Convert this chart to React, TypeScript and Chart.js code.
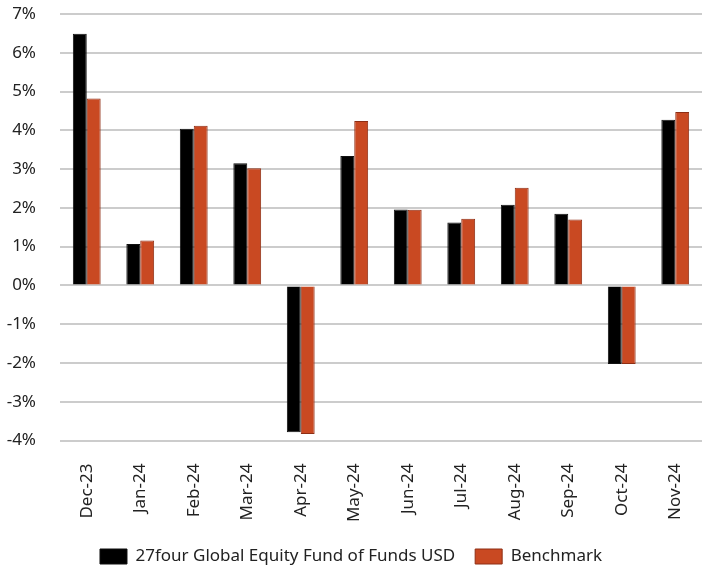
import React, { useEffect, useRef } from "react";
import { Chart, registerables } from "chart.js";

Chart.register(...registerables);

const categories = ["Dec-23", "Jan-24", "Feb-24", "Mar-24", "Apr-24", "May-24", "Jun-24", "Jul-24", "Aug-24", "Sep-24", "Oct-24", "Nov-24"];
const fundValues = [6.49, 1.07, 4.04, 3.15, -3.79, 3.34, 1.96, 1.62, 2.08, 1.85, -2.03, 4.27];
const benchmarkValues = [4.82, 1.16, 4.12, 3.02, -3.83, 4.24, 1.95, 1.72, 2.52, 1.70, -2.03, 4.47];
const fundLabel = "27four Global Equity Fund of Funds USD";
const benchmarkLabel = "Benchmark";

const FONT = "'Noto Sans', sans-serif";

export default function App() {
  const ref = useRef<HTMLCanvasElement | null>(null);
  useEffect(() => {
    document.body.style.margin = "0";
    const ctx = ref.current!;
    const chart = new Chart(ctx, {
      type: "bar",
      data: {
        labels: categories,
        datasets: [
          {
            label: fundLabel,
            data: fundValues,
            backgroundColor: "#000000",
            borderColor: "#111111",
            borderWidth: 1,
            categoryPercentage: 0.52,
            barPercentage: 1.0,
          },
          {
            label: benchmarkLabel,
            data: benchmarkValues,
            backgroundColor: "#C94922",
            borderColor: "#8E2E14",
            borderWidth: 1,
            categoryPercentage: 0.52,
            barPercentage: 1.0,
          },
        ],
      },
      options: {
        animation: false,
        responsive: false,
        maintainAspectRatio: false,
        layout: { padding: { top: 14, left: 0, right: 1, bottom: -6 } },
        plugins: {
          tooltip: { enabled: false },
          legend: {
            position: "bottom",
            labels: {
              color: "#222",
              font: { family: FONT, size: 17 },
              boxWidth: 27,
              boxHeight: 15,
              padding: 20,
            },
          },
        },
        scales: {
          x: {
            afterFit: (s: any) => {
              s.height = 87.5;
              s.paddingLeft = 0;
              s.paddingRight = 0;
            },
            grid: { display: false, drawTicks: false },
            border: { display: false },
            ticks: {
              color: "#222",
              font: { family: FONT, size: 17 },
              maxRotation: 90,
              minRotation: 90,
              padding: 23,
            },
          },
          y: {
            min: -4,
            max: 7,
            afterFit: (s: any) => {
              s.width = 60;
              s.paddingTop = 0;
              s.paddingBottom = 0;
            },
            grid: { color: "#cccccc", lineWidth: 2, drawTicks: false },
            border: { display: false },
            ticks: {
              stepSize: 1,
              color: "#222",
              font: { family: FONT, size: 17 },
              padding: 24,
              callback: (v: any) => `${v}%`,
            },
          },
        },
      },
    });
    return () => chart.destroy();
  }, []);
  return (
    <div style={{ width: 703, height: 569 }}>
      <canvas ref={ref} width={703} height={569} style={{ display: "block" }} />
    </div>
  );
}
